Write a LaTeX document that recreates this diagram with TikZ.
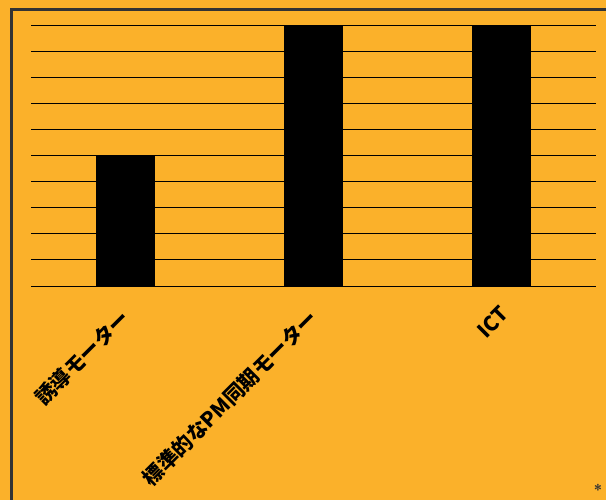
\documentclass[tikz,border=0pt]{standalone}
\usepackage{fontspec}
\newfontfamily\jpfont{Noto Sans CJK JP}
\usepackage{xcolor}
\definecolor{chartbg}{HTML}{FBB12A}
\definecolor{framegray}{HTML}{333333}

\begin{document}
\begin{tikzpicture}[x=1pt, y=-1pt,
    gridline/.style={draw=black, line width=0.9pt},
    bar/.style={fill=black},
    barlabel/.style={rotate=45, anchor=east, inner sep=0pt,
        font=\jpfont\bfseries\fontsize{20.5}{24}\selectfont}]
    % Background and frame
    \fill[chartbg] (0, 0) rectangle (606, 500);
    \useasboundingbox (0, 0) rectangle (606, 500);
    \draw[framegray, line width=2.6pt] (11.5, 500) -- (11.5, 9.5) -- (606, 9.5);

    % Grid lines
    \draw[gridline] (31, 25) -- (596, 25);
    \draw[gridline] (31, 51.1) -- (596, 51.1);
    \draw[gridline] (31, 77.2) -- (596, 77.2);
    \draw[gridline] (31, 103.3) -- (596, 103.3);
    \draw[gridline] (31, 129.4) -- (596, 129.4);
    \draw[gridline] (31, 155.5) -- (596, 155.5);
    \draw[gridline] (31, 181.6) -- (596, 181.6);
    \draw[gridline] (31, 207.7) -- (596, 207.7);
    \draw[gridline] (31, 233.8) -- (596, 233.8);
    \draw[gridline] (31, 259.9) -- (596, 259.9);
    \draw[gridline] (31, 286.5) -- (596, 286.5);

    % Bars
    \fill[bar] (96, 155.5) rectangle (155, 286.5);
    \fill[bar] (284, 25) rectangle (343, 286.5);
    \fill[bar] (472, 25) rectangle (531, 286.5);

    % Bar labels
    \path
    (126, 314) node[barlabel] (induction) {誘導モーター}
    (314, 314) node[barlabel] (pmsync) {標準的なPM同期モーター}
    (505, 310) node[barlabel] (ict) {ICT}
    ;

    % Footnote mark
    \node[framegray, font=\sffamily\bfseries\fontsize{15}{18}\selectfont] (star) at (598, 490) {*};
\end{tikzpicture}
\end{document}
